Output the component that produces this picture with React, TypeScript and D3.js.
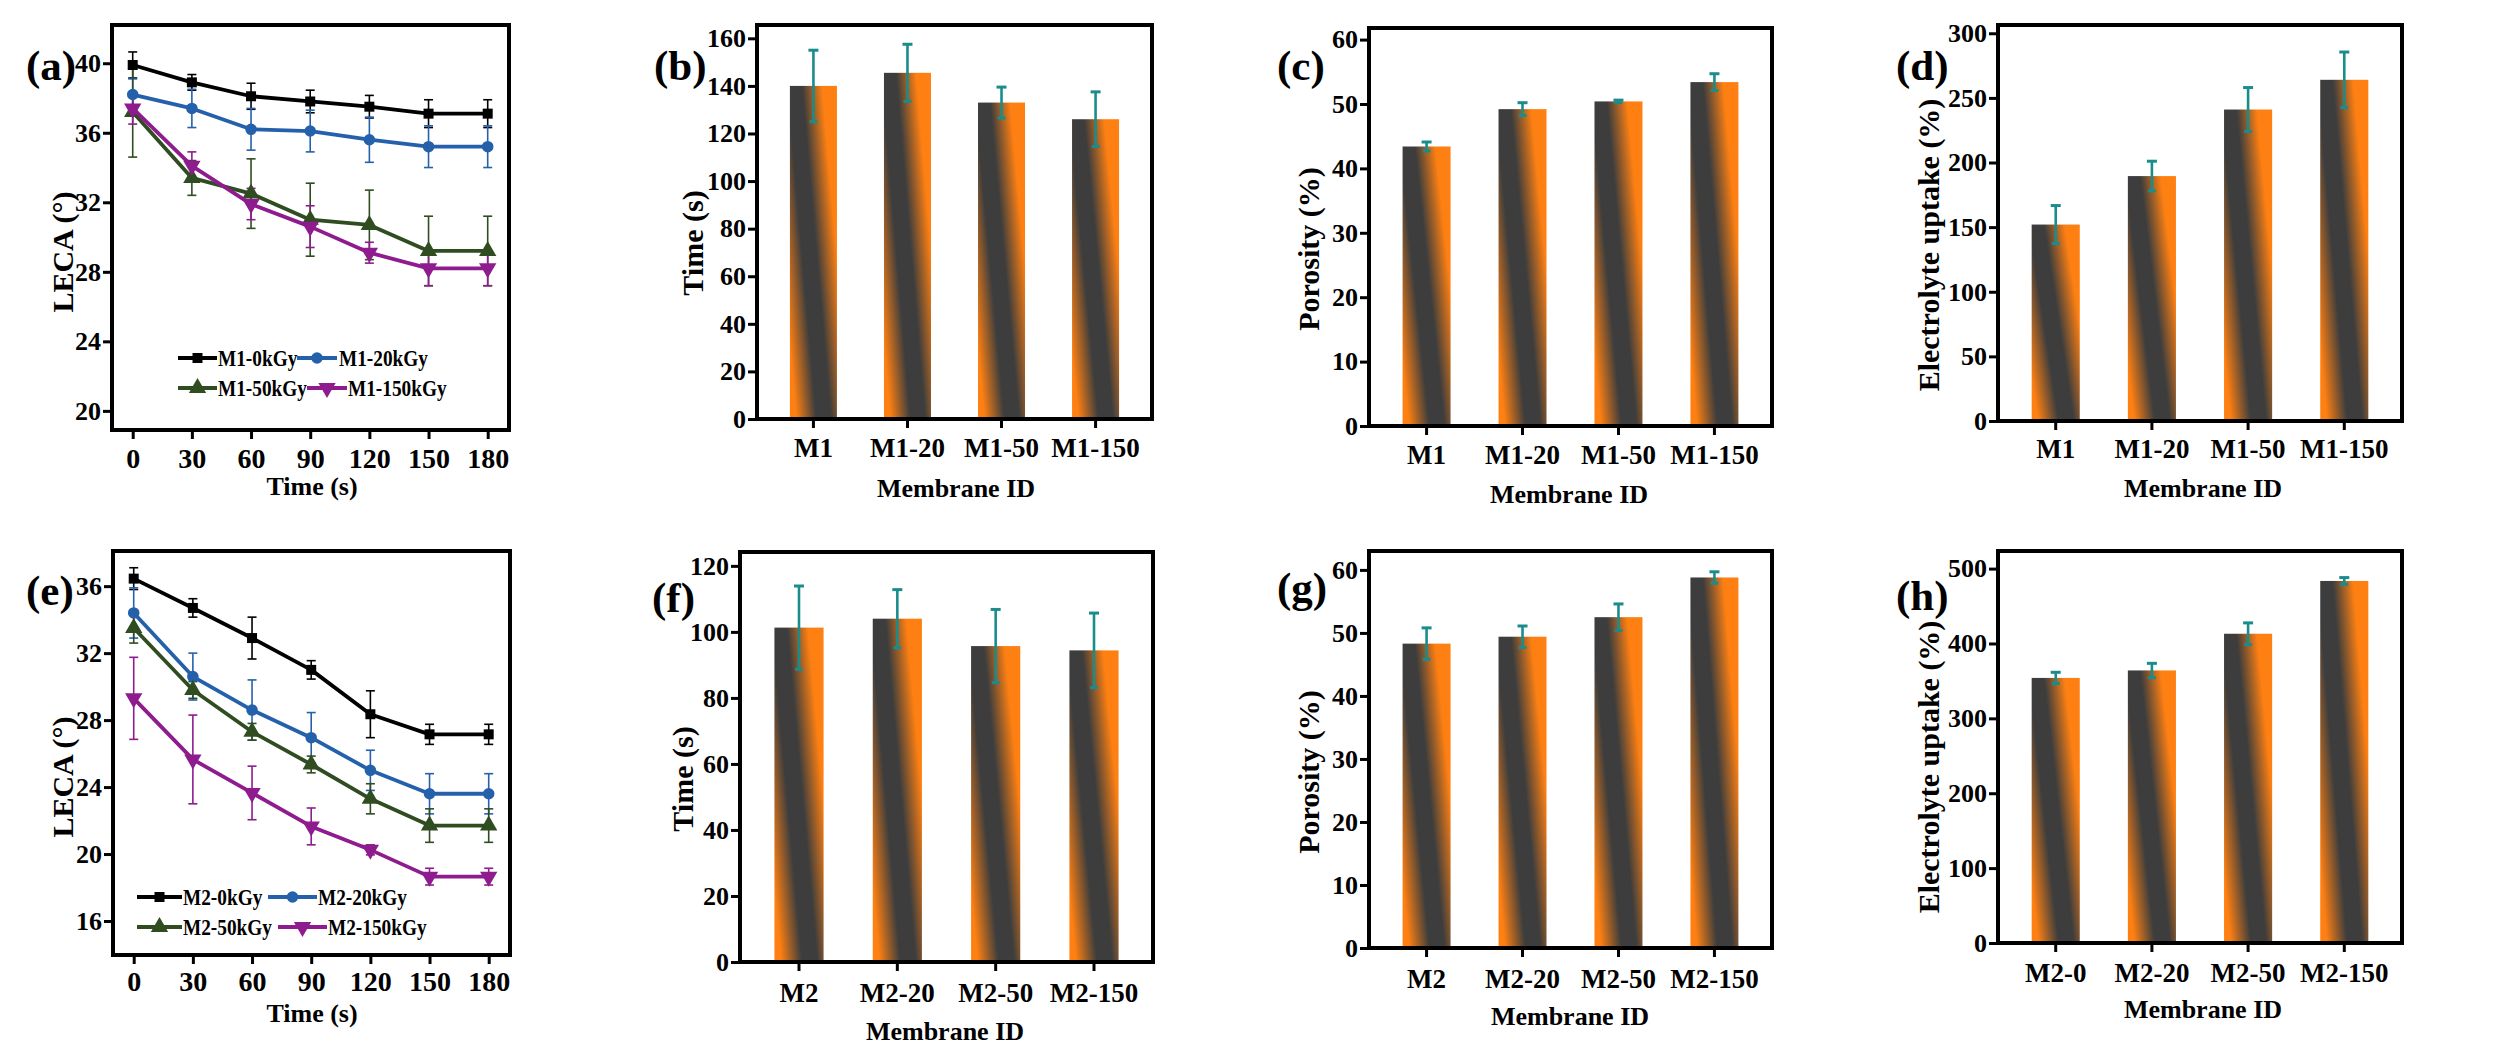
import React, { useEffect, useRef } from "react";
import * as d3 from "d3";

// ---- data ----
const times = [0, 30, 60, 90, 120, 150, 180];

const m1Names = ["M1-0kGy", "M1-20kGy", "M1-50kGy", "M1-150kGy"];
const m1Leca0 = [39.9, 38.9, 38.1, 37.8, 37.5, 37.1, 37.1];
const m1Leca0Err = [0.75, 0.45, 0.75, 0.65, 0.65, 0.8, 0.8];
const m1Leca20 = [38.2, 37.4, 36.2, 36.1, 35.6, 35.2, 35.2];
const m1Leca20Err = [0.9, 1.1, 1.2, 1.2, 1.3, 1.2, 1.2];
const m1Leca50 = [37.2, 33.4, 32.5, 31.0, 30.7, 29.2, 29.2];
const m1Leca50Err = [2.6, 1.0, 2.0, 2.1, 2.0, 2.0, 2.0];
const m1Leca150 = [37.4, 34.1, 31.9, 30.6, 29.1, 28.2, 28.2];
const m1Leca150Err = [0.9, 0.8, 0.9, 1.2, 0.6, 1.0, 1.0];

const m2Names = ["M2-0kGy", "M2-20kGy", "M2-50kGy", "M2-150kGy"];
const m2Leca0 = [36.45, 34.7, 32.9, 31.0, 28.35, 27.15, 27.15];
const m2Leca0Err = [0.65, 0.55, 1.25, 0.55, 1.4, 0.6, 0.6];
const m2Leca20 = [34.4, 30.6, 28.6, 26.95, 25.0, 23.6, 23.6];
const m2Leca20Err = [1.5, 1.4, 1.8, 1.5, 1.2, 1.2, 1.2];
const m2Leca50 = [33.5, 29.8, 27.3, 25.35, 23.3, 21.7, 21.7];
const m2Leca50Err = [0.9, 0.5, 0.5, 0.5, 0.9, 1.0, 1.0];
const m2Leca150 = [29.3, 25.65, 23.65, 21.65, 20.25, 18.65, 18.65];
const m2Leca150Err = [2.45, 2.65, 1.6, 1.1, 0.3, 0.5, 0.5];

const m1Ids = ["M1", "M1-20", "M1-50", "M1-150"];
const m1Wetting = [140, 145.5, 133, 126];
const m1WettingErr = [15, 12, 6.5, 11.5];
const m1Porosity = [43.4, 49.2, 50.4, 53.4];
const m1PorosityErr = [0.7, 1.0, 0.2, 1.3];
const m1Uptake = [152, 189.5, 241, 264];
const m1UptakeErr = [14.7, 11.5, 17, 21.5];

const m2Ids = ["M2", "M2-20", "M2-50", "M2-150"];
const m2UptakeIds = ["M2-0", "M2-20", "M2-50", "M2-150"];
const m2Wetting = [101.3, 104, 95.7, 94.4];
const m2WettingErr = [12.6, 8.8, 11.1, 11.3];
const m2Porosity = [48.3, 49.4, 52.5, 58.8];
const m2PorosityErr = [2.5, 1.7, 2.1, 0.9];
const m2Uptake = [354, 364, 413, 483.5];
const m2UptakeErr = [7.5, 9.5, 14.5, 4.5];

const seriesColors = ["#000000", "#2561ab", "#2f4d20", "#8e1c8e"];
const FONT = "'Liberation Serif', 'Times New Roman', serif";
const ERR = "#1b8c8c";
const ORANGE = "#ff8012";
const DARK = "#3d3d3d";

const markerPath = (i: number) => {
  const types = [d3.symbolSquare, d3.symbolCircle, d3.symbolTriangle, d3.symbolTriangle];
  const sizes = [100, 105, 130, 130];
  return d3.symbol().type(types[i]).size(sizes[i])();
};

const styleAxis = (g: any, fs: number) => {
  g.attr("font-family", FONT).attr("font-size", fs).attr("font-weight", "bold");
  g.select(".domain").remove();
  g.selectAll(".tick line").attr("stroke", "#000").attr("stroke-width", 3);
  g.selectAll(".tick text").attr("fill", "#000");
};

const addLabels = (g: any, cfg: any, yTitle: string, xTitle: string) => {
  g.append("text")
    .attr("transform", `translate(${cfg.yTitleX},${cfg.yTitleY}) rotate(-90)`)
    .attr("dy", "0.35em")
    .attr("text-anchor", "middle")
    .attr("font-family", FONT).attr("font-weight", "bold").attr("font-size", 30)
    .text(yTitle);
  g.append("text")
    .attr("x", cfg.xTitleX).attr("y", cfg.xTitleY)
    .attr("text-anchor", "middle")
    .attr("font-family", FONT).attr("font-weight", "bold").attr("font-size", 26)
    .text(xTitle);
  g.append("text")
    .attr("x", cfg.tagX).attr("y", cfg.tagY)
    .attr("font-family", FONT).attr("font-weight", "bold").attr("font-size", 43)
    .text(cfg.tag);
};

const drawLinePanel = (svg: any, cfg: any) => {
  const g = svg.append("g");
  const x = d3.scaleLinear().domain([-10.5, 190.8]).range([cfg.left, cfg.right]);
  const y = d3.scaleLinear().domain(cfg.yDomain).range([cfg.bottom, cfg.top]);

  g.append("g")
    .attr("transform", `translate(${cfg.left},0)`)
    .call(d3.axisLeft(y).tickValues(cfg.yTicks).tickSize(9).tickPadding(2))
    .call(styleAxis, 26);

  const xa = g.append("g")
    .attr("transform", `translate(0,${cfg.bottom})`)
    .call(d3.axisBottom(x).tickValues(times).tickSize(9))
    .call(styleAxis, 28);
  xa.selectAll(".tick text").attr("dy", null).attr("y", cfg.tickLabelDy);

  const line = d3.line<number>().x((d, i) => x(times[i])).y(d => y(d));

  cfg.series.forEach((s: any, si: number) => {
    const c = seriesColors[si];
    const eg = g.append("g").attr("stroke", c).attr("stroke-width", 1.6);
    s.values.forEach((v: number, i: number) => {
      const cx = x(times[i]);
      const y1 = y(v + s.err[i]);
      const y2 = y(v - s.err[i]);
      eg.append("line").attr("x1", cx).attr("x2", cx).attr("y1", y1).attr("y2", y2);
      eg.append("line").attr("x1", cx - 4.5).attr("x2", cx + 4.5).attr("y1", y1).attr("y2", y1);
      eg.append("line").attr("x1", cx - 4.5).attr("x2", cx + 4.5).attr("y1", y2).attr("y2", y2);
    });
  });

  cfg.series.forEach((s: any, si: number) => {
    const c = seriesColors[si];
    g.append("path")
      .datum(s.values)
      .attr("d", line)
      .attr("fill", "none")
      .attr("stroke", c)
      .attr("stroke-width", 3.8)
      .attr("stroke-linejoin", "round");
    g.selectAll(null)
      .data(s.values)
      .enter()
      .append("path")
      .attr("d", markerPath(si))
      .attr("fill", c)
      .attr("transform", (d: number, i: number) =>
        `translate(${x(times[i])},${y(d)})${si === 3 ? " rotate(180)" : ""}`);
  });

  // legend
  cfg.legend.forEach((it: any, i: number) => {
    const c = seriesColors[i];
    const lg = g.append("g");
    lg.append("line")
      .attr("x1", it.x0).attr("x2", it.x1).attr("y1", it.y).attr("y2", it.y)
      .attr("stroke", c).attr("stroke-width", 4);
    lg.append("path")
      .attr("d", markerPath(i))
      .attr("fill", c)
      .attr("transform", `translate(${(it.x0 + it.x1) / 2},${it.y})${i === 3 ? " rotate(180)" : ""}`);
    lg.append("text")
      .attr("transform", `translate(${it.tx},${it.y}) scale(0.84,1)`)
      .attr("dy", "0.35em")
      .attr("font-family", FONT).attr("font-weight", "bold").attr("font-size", 23)
      .text(cfg.series[i].name);
  });

  g.append("rect")
    .attr("x", cfg.left).attr("y", cfg.top)
    .attr("width", cfg.right - cfg.left).attr("height", cfg.bottom - cfg.top)
    .attr("fill", "none").attr("stroke", "#000").attr("stroke-width", 4);

  addLabels(g, cfg, "LECA (°)", "Time (s)");
};

const drawBarPanel = (svg: any, cfg: any) => {
  const g = svg.append("g");
  const x = d3.scaleBand().domain(cfg.ids).range([cfg.left, cfg.right]).paddingInner(0.5).paddingOuter(0.35);
  const y = d3.scaleLinear().domain([0, cfg.yMax]).range([cfg.bottom, cfg.top]);

  g.append("g")
    .attr("transform", `translate(${cfg.left},0)`)
    .call(d3.axisLeft(y).tickValues(cfg.yTicks).tickSize(9).tickPadding(2))
    .call(styleAxis, 26);

  const xa = g.append("g")
    .attr("transform", `translate(0,${cfg.bottom})`)
    .call(d3.axisBottom(x).tickSize(9))
    .call(styleAxis, 27);
  xa.selectAll(".tick text").attr("dy", null).attr("y", cfg.tickLabelDy);

  g.selectAll(null)
    .data(cfg.values)
    .enter()
    .append("rect")
    .attr("x", (d: number, i: number) => x(cfg.ids[i]))
    .attr("width", x.bandwidth())
    .attr("y", (d: number) => y(d))
    .attr("height", (d: number) => cfg.bottom - y(d))
    .attr("fill", "url(#barGrad)");

  const eg = g.append("g").attr("stroke", ERR).attr("stroke-width", 2.6);
  cfg.values.forEach((v: number, i: number) => {
    const cx = (x(cfg.ids[i]) as number) + x.bandwidth() / 2;
    const y1 = y(v + cfg.err[i]);
    const y2 = y(v - cfg.err[i]);
    eg.append("line").attr("x1", cx).attr("x2", cx).attr("y1", y1).attr("y2", y2);
    eg.append("line").attr("x1", cx - 5).attr("x2", cx + 5).attr("y1", y1).attr("y2", y1).attr("stroke-width", 3);
    eg.append("line").attr("x1", cx - 4).attr("x2", cx + 4).attr("y1", y2).attr("y2", y2).attr("stroke-width", 3);
  });

  g.append("rect")
    .attr("x", cfg.left).attr("y", cfg.top)
    .attr("width", cfg.right - cfg.left).attr("height", cfg.bottom - cfg.top)
    .attr("fill", "none").attr("stroke", "#000").attr("stroke-width", 4);

  addLabels(g, cfg, cfg.yTitle, "Membrane ID");
};

const App = () => {
  const ref = useRef<SVGSVGElement>(null);

  useEffect(() => {
    const svg = d3.select(ref.current);
    svg.selectAll("*").remove();
    svg.append("rect").attr("width", 2513).attr("height", 1045).attr("fill", "#fff");

    // diagonal orange - dark - orange shading of the bars
    const grad = svg.append("defs").append("linearGradient")
      .attr("id", "barGrad")
      .attr("x1", -0.0345).attr("y1", 0.8314).attr("x2", 0.9045).attr("y2", 0.2492);
    [[0, ORANGE], [0.05, ORANGE], [0.38, DARK], [0.62, DARK], [0.95, ORANGE], [1, ORANGE]].forEach(([o, c]) =>
      grad.append("stop").attr("offset", o as number).attr("stop-color", c as string));

    const mk = (names: string[], vals: number[][], errs: number[][]) =>
      names.map((name, i) => ({ name, values: vals[i], err: errs[i] }));

    drawLinePanel(svg, {
      tag: "(a)", tagX: 26, tagY: 80,
      left: 112, right: 509, top: 25, bottom: 430,
      yDomain: [18.9, 42.2], yTicks: [20, 24, 28, 32, 36, 40],
      tickLabelDy: 38, yTitleX: 62, yTitleY: 252, xTitleX: 312, xTitleY: 495,
      series: mk(m1Names, [m1Leca0, m1Leca20, m1Leca50, m1Leca150], [m1Leca0Err, m1Leca20Err, m1Leca50Err, m1Leca150Err]),
      legend: [
        { x0: 178, x1: 217, tx: 218, y: 358 },
        { x0: 297, x1: 337, tx: 339, y: 358 },
        { x0: 178, x1: 217, tx: 218, y: 388 },
        { x0: 307, x1: 347, tx: 348, y: 388 },
      ],
    });

    drawLinePanel(svg, {
      tag: "(e)", tagX: 26, tagY: 605,
      left: 113, right: 510, top: 551, bottom: 955,
      yDomain: [13.97, 38.1], yTicks: [16, 20, 24, 28, 32, 36],
      tickLabelDy: 36, yTitleX: 62, yTitleY: 777, xTitleX: 312, xTitleY: 1022,
      series: mk(m2Names, [m2Leca0, m2Leca20, m2Leca50, m2Leca150], [m2Leca0Err, m2Leca20Err, m2Leca50Err, m2Leca150Err]),
      legend: [
        { x0: 137, x1: 182, tx: 183, y: 897 },
        { x0: 268, x1: 317, tx: 318, y: 897 },
        { x0: 137, x1: 182, tx: 183, y: 927 },
        { x0: 278, x1: 327, tx: 328, y: 927 },
      ],
    });

    const bars = [
      { tag: "(b)", tagX: 654, tagY: 80, left: 757, right: 1152, top: 25, bottom: 419, ids: m1Ids,
        values: m1Wetting, err: m1WettingErr, yMax: 165.6, yTicks: d3.range(0, 161, 20), yTitle: "Time (s)",
        tickLabelDy: 38, xTitleY: 497, xTitleX: 956, yTitleX: 692, yTitleY: 243 },
      { tag: "(c)", tagX: 1277, tagY: 80, left: 1369, right: 1772, top: 28, bottom: 426, ids: m1Ids,
        values: m1Porosity, err: m1PorosityErr, yMax: 61.8, yTicks: d3.range(0, 61, 10), yTitle: "Porosity (%)",
        tickLabelDy: 38, xTitleY: 503, xTitleX: 1569, yTitleX: 1308, yTitleY: 249 },
      { tag: "(d)", tagX: 1896, tagY: 80, left: 1998, right: 2402, top: 25, bottom: 421, ids: m1Ids,
        values: m1Uptake, err: m1UptakeErr, yMax: 306.4, yTicks: d3.range(0, 301, 50), yTitle: "Electrolyte uptake (%)",
        tickLabelDy: 37, xTitleY: 497, xTitleX: 2203, yTitleX: 1928, yTitleY: 245 },
      { tag: "(f)", tagX: 652, tagY: 612, left: 740, right: 1153, top: 552, bottom: 962, ids: m2Ids,
        values: m2Wetting, err: m2WettingErr, yMax: 124.2, yTicks: d3.range(0, 121, 20), yTitle: "Time (s)",
        tickLabelDy: 40, xTitleY: 1040, xTitleX: 945, yTitleX: 682, yTitleY: 779 },
      { tag: "(g)", tagX: 1277, tagY: 602, left: 1369, right: 1772, top: 551, bottom: 948, ids: m2Ids,
        values: m2Porosity, err: m2PorosityErr, yMax: 63, yTicks: d3.range(0, 61, 10), yTitle: "Porosity (%)",
        tickLabelDy: 40, xTitleY: 1025, xTitleX: 1570, yTitleX: 1308, yTitleY: 772 },
      { tag: "(h)", tagX: 1896, tagY: 610, left: 1998, right: 2402, top: 551, bottom: 943, ids: m2UptakeIds,
        values: m2Uptake, err: m2UptakeErr, yMax: 523.5, yTicks: d3.range(0, 501, 100), yTitle: "Electrolyte uptake (%)",
        tickLabelDy: 39, xTitleY: 1018, xTitleX: 2203, yTitleX: 1928, yTitleY: 767 },
    ];
    bars.forEach(b => drawBarPanel(svg, b));
  }, []);

  return (
    <svg
      ref={ref}
      width={2513}
      height={1045}
      style={{ position: "absolute", left: 0, top: 0, display: "block" }}
    />
  );
};

export default App;
